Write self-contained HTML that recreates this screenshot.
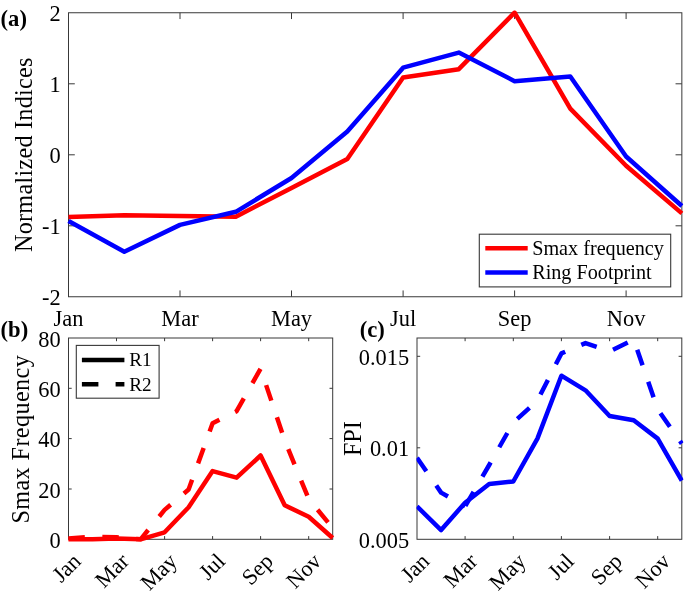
<!DOCTYPE html>
<html><head><meta charset="utf-8"><title>figure</title>
<style>
html,body{margin:0;padding:0;background:#fff;}
svg{display:block;will-change:transform;}
text{font-family:"Liberation Serif","Times New Roman",serif;fill:#000;}
.t{font-size:22.4px;}
.b{font-size:22.6px;font-weight:bold;}
.l{font-size:24.2px;}
.g{font-size:20.2px;}
.ax{stroke:#383838;stroke-width:1;fill:none;}
.r{stroke:#ff0000;stroke-width:4.5;fill:none;stroke-linejoin:round;}
.bl{stroke:#0000ff;stroke-width:4.5;fill:none;stroke-linejoin:round;}
.k{stroke:#000;stroke-width:4.5;fill:none;}
</style></head><body>
<svg width="685" height="597" viewBox="0 0 685 597">
<rect width="685" height="597" fill="#fff"/>
<defs>
<clipPath id="c1"><rect x="66" y="10.3" width="617.5" height="288"/></clipPath>
<clipPath id="c2"><rect x="68" y="337" width="266.4" height="205.3"/></clipPath>
<clipPath id="c3"><rect x="416.5" y="336.2" width="267" height="205"/></clipPath>
</defs>

<rect class="ax" x="68.5" y="12.75" width="613.35" height="284.0"/>
<path class="ax" d="M180.0 296.75v-6.3M180.0 12.75v6.3"/>
<path class="ax" d="M291.5 296.75v-6.3M291.5 12.75v6.3"/>
<path class="ax" d="M403.1 296.75v-6.3M403.1 12.75v6.3"/>
<path class="ax" d="M514.6 296.75v-6.3M514.6 12.75v6.3"/>
<path class="ax" d="M626.1 296.75v-6.3M626.1 12.75v6.3"/>
<path class="ax" d="M68.5 83.8h6.3M681.85 83.8h-6.3"/>
<path class="ax" d="M68.5 154.8h6.3M681.85 154.8h-6.3"/>
<path class="ax" d="M68.5 225.8h6.3M681.85 225.8h-6.3"/>
<text class="t" x="60.6" y="21.2" text-anchor="end">2</text>
<text class="t" x="60.6" y="92.2" text-anchor="end">1</text>
<text class="t" x="60.6" y="163.2" text-anchor="end">0</text>
<text class="t" x="60.6" y="234.2" text-anchor="end">-1</text>
<text class="t" x="60.6" y="305.2" text-anchor="end">-2</text>
<text class="t" x="68.5" y="326.35" text-anchor="middle">Jan</text>
<text class="t" x="180.0" y="326.35" text-anchor="middle">Mar</text>
<text class="t" x="291.5" y="326.35" text-anchor="middle">May</text>
<text class="t" x="403.1" y="326.35" text-anchor="middle">Jul</text>
<text class="t" x="514.6" y="326.35" text-anchor="middle">Sep</text>
<text class="t" x="626.1" y="326.35" text-anchor="middle">Nov</text>
<text class="l" transform="translate(32,154.8) rotate(-90)" text-anchor="middle" textLength="194.6" lengthAdjust="spacing">Normalized Indices</text>
<text class="b" x="0.6" y="26.3">(a)</text>
<g clip-path="url(#c1)"><polyline class="r" points="68.5,217.0 124.3,215.3 180.0,216.0 235.8,216.7 291.5,187.9 347.3,159.1 403.1,77.4 458.8,69.2 514.6,12.6 570.3,108.6 626.1,165.7 681.9,213.4"/><polyline class="bl" points="68.5,221.0 124.3,251.8 180.0,224.9 235.8,211.8 291.5,178.0 347.3,131.4 403.1,67.7 458.8,52.6 514.6,81.2 570.3,76.5 626.1,156.5 681.9,206.0"/></g>
<rect x="479.3" y="234.2" width="191.40000000000003" height="52.69999999999999" fill="#fff" stroke="#383838" stroke-width="1.1"/>
<path class="r" d="M485.3 248.2h42.4"/><path class="bl" d="M485.3 272.5h42.4"/>
<text class="g" x="532.2" y="255.1">Smax frequency</text>
<text class="g" x="532.2" y="279.1">Ring Footprint</text>
<rect class="ax" x="68.5" y="338.0" width="264.2" height="201.29999999999995"/>
<path class="ax" d="M116.5 539.3v-3.2M116.5 338.0v3.2"/>
<path class="ax" d="M164.6 539.3v-3.2M164.6 338.0v3.2"/>
<path class="ax" d="M212.6 539.3v-3.2M212.6 338.0v3.2"/>
<path class="ax" d="M260.6 539.3v-3.2M260.6 338.0v3.2"/>
<path class="ax" d="M308.7 539.3v-3.2M308.7 338.0v3.2"/>
<text class="t" x="60.6" y="547.8" text-anchor="end">0</text>
<path class="ax" d="M68.5 489.0h3.2M332.7 489.0h-3.2"/>
<text class="t" x="60.6" y="497.5" text-anchor="end">20</text>
<path class="ax" d="M68.5 438.6h3.2M332.7 438.6h-3.2"/>
<text class="t" x="60.6" y="447.1" text-anchor="end">40</text>
<path class="ax" d="M68.5 388.3h3.2M332.7 388.3h-3.2"/>
<text class="t" x="60.6" y="396.8" text-anchor="end">60</text>
<text class="t" x="60.6" y="346.5" text-anchor="end">80</text>
<text class="t" transform="translate(82.3,562.5) rotate(-45)" text-anchor="end">Jan</text>
<text class="t" transform="translate(130.3,562.5) rotate(-45)" text-anchor="end">Mar</text>
<text class="t" transform="translate(178.4,562.5) rotate(-45)" text-anchor="end">May</text>
<text class="t" transform="translate(226.4,562.5) rotate(-45)" text-anchor="end">Jul</text>
<text class="t" transform="translate(274.4,562.5) rotate(-45)" text-anchor="end">Sep</text>
<text class="t" transform="translate(322.5,562.5) rotate(-45)" text-anchor="end">Nov</text>
<text class="l" transform="translate(28.8,439.4) rotate(-90)" text-anchor="middle" textLength="168.4" lengthAdjust="spacing">Smax Frequency</text>
<text class="b" x="0.6" y="336.8">(b)</text>
<g clip-path="url(#c2)">
<polyline class="r" points="68.5,539.3 92.5,539.3 116.5,538.4 140.6,539.3 164.6,532.3 188.6,507.3 212.6,471.1 236.6,477.7 260.6,455.5 284.7,505.3 308.7,516.7 332.7,538.0"/>
<polyline class="r" points="68.5,538.5 92.5,536.8 116.5,537.3 140.6,539.3 164.6,509.9 188.6,489.5 212.6,423.3 236.6,411.2 260.6,368.7 284.7,440.4 308.7,499.0 332.7,528.0" stroke-dasharray="16.4 17.5" stroke-dashoffset="0"/>
</g>
<rect x="76.3" y="345.4" width="82.8" height="52.8" fill="#fff" stroke="#383838" stroke-width="1.1"/>
<path class="k" d="M81.9 360h42.5"/><path class="k" d="M81.9 384.3h42.5" stroke-dasharray="16.5 17.2"/>
<text class="g" style="font-size:19.2px" x="129.3" y="366.3">R1</text><text class="g" style="font-size:19.2px" x="129.3" y="390.5">R2</text>
<rect class="ax" x="417.0" y="338.0" width="264.79999999999995" height="201.29999999999995"/>
<path class="ax" d="M465.1 539.3v-3.2M465.1 338.0v3.2"/>
<path class="ax" d="M513.3 539.3v-3.2M513.3 338.0v3.2"/>
<path class="ax" d="M561.4 539.3v-3.2M561.4 338.0v3.2"/>
<path class="ax" d="M609.6 539.3v-3.2M609.6 338.0v3.2"/>
<path class="ax" d="M657.7 539.3v-3.2M657.7 338.0v3.2"/>
<text class="t" x="409.1" y="547.8" text-anchor="end">0.005</text>
<path class="ax" d="M417.0 447.8h3.2M681.8 447.8h-3.2"/>
<text class="t" x="409.1" y="456.3" text-anchor="end">0.01</text>
<path class="ax" d="M417.0 356.3h3.2M681.8 356.3h-3.2"/>
<text class="t" x="409.1" y="364.8" text-anchor="end">0.015</text>
<text class="t" transform="translate(430.8,562.5) rotate(-45)" text-anchor="end">Jan</text>
<text class="t" transform="translate(478.9,562.5) rotate(-45)" text-anchor="end">Mar</text>
<text class="t" transform="translate(527.1,562.5) rotate(-45)" text-anchor="end">May</text>
<text class="t" transform="translate(575.2,562.5) rotate(-45)" text-anchor="end">Jul</text>
<text class="t" transform="translate(623.4,562.5) rotate(-45)" text-anchor="end">Sep</text>
<text class="t" transform="translate(671.5,562.5) rotate(-45)" text-anchor="end">Nov</text>
<text class="l" transform="translate(361.3,438.6) rotate(-90)" text-anchor="middle">FPI</text>
<text class="b" x="359.8" y="336.9">(c)</text>
<g clip-path="url(#c3)">
<polyline class="bl" points="417.0,506.4 441.1,530.1 465.1,502.7 489.2,484.0 513.3,481.5 537.4,438.6 561.4,375.7 585.5,390.3 609.6,416.0 633.7,420.3 657.7,438.6 681.8,480.7"/>
<polyline class="bl" points="417.0,457.7 441.1,492.6 465.1,506.4" stroke-dasharray="16.4 17.5" stroke-dashoffset="0"/>
<polyline class="bl" points="465.1,506.4 489.2,465.0 513.3,422.5 537.4,400.6 561.4,353.4 585.5,343.1 609.6,351.4 633.7,339.5 657.7,409.4 681.8,443.6" stroke-dasharray="16.4 17.5" stroke-dashoffset="-0.5"/>
</g>
</svg></body></html>
